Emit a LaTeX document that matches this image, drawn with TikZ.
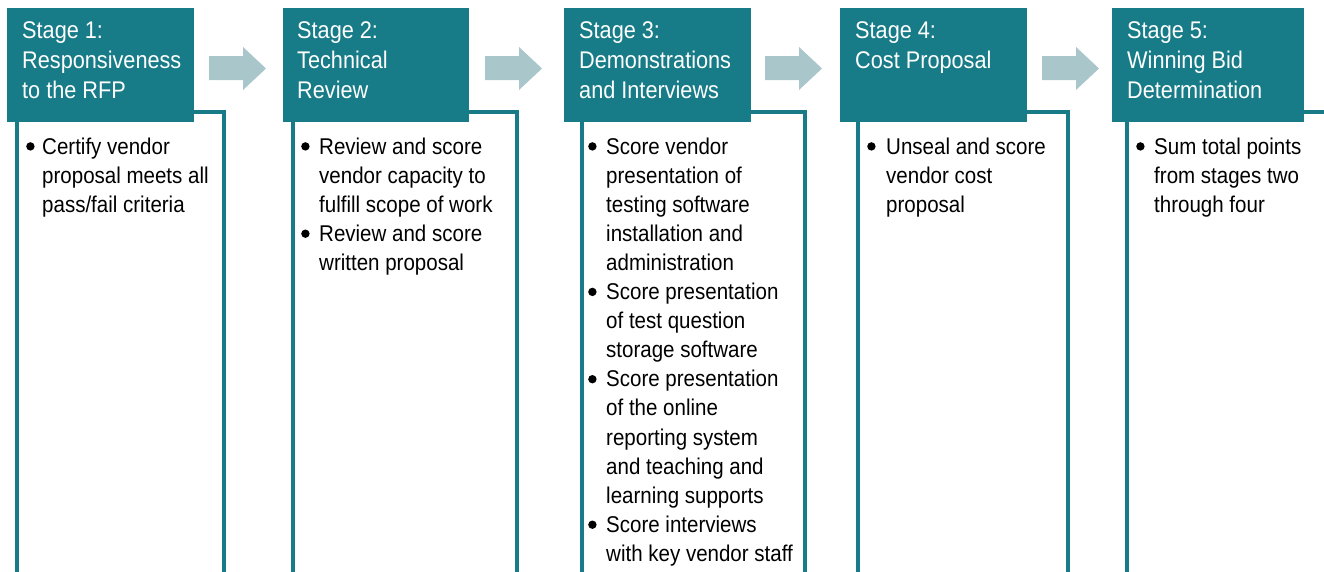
\documentclass[tikz,border=0pt]{standalone}
\usepackage{fontspec}
\setmainfont{Liberation Sans}[FakeStretch=0.9]
\usetikzlibrary{positioning}
\definecolor{stageteal}{RGB}{23,124,135}
\definecolor{stagearrow}{RGB}{169,198,203}
\tikzset{
  stagehead/.style={fill=stageteal, draw=none, minimum height=114pt, inner sep=0pt, anchor=north west},
  headtext/.style={text=white, anchor=base west, inner sep=0pt, font=\fontsize{24.1}{30}\selectfont},
  bodyline/.style={draw=stageteal, line width=3.5pt},
  bodytext/.style={anchor=base west, inner sep=0pt, font=\fontsize{22.8}{29.1}\selectfont},
}
\newcommand{\bul}{\tikz[baseline=0pt]\fill (4.2pt,7.6pt) circle (4.2pt); &}
\begin{document}
\begin{tikzpicture}[x=1pt, y=1pt]
    \useasboundingbox (0,0) rectangle (1324,-571);
    \clip (0,0) rectangle (1324,-571);

    % body frames
    \draw[bodyline] (17,-112) rectangle (224,-600);
    \draw[bodyline] (293,-112) rectangle (517,-600);
    \draw[bodyline] (582,-112) rectangle (805,-600);
    \draw[bodyline] (858,-112) rectangle (1068,-600);
    \draw[bodyline] (1127,-112) rectangle (1345,-600);

    % headers
    \node[stagehead, minimum width=187pt] (h1) at (7,-8) {};
    \node[stagehead, minimum width=186pt] (h2) at (283,-8) {};
    \node[stagehead, minimum width=187pt] (h3) at (564,-8) {};
    \node[stagehead, minimum width=187pt] (h4) at (840,-8) {};
    \node[stagehead, minimum width=192pt] (h5) at (1112,-8) {};

    \node[headtext] (t1) at (22,-38) {\begin{tabular}[t]{@{}l@{}}Stage 1:\\Responsiveness\\to the RFP\end{tabular}};
    \node[headtext] (t2) at (297,-38) {\begin{tabular}[t]{@{}l@{}}Stage 2:\\Technical\\Review\end{tabular}};
    \node[headtext] (t3) at (579,-38) {\begin{tabular}[t]{@{}l@{}}Stage 3:\\Demonstrations\\and Interviews\end{tabular}};
    \node[headtext] (t4) at (855,-38) {\begin{tabular}[t]{@{}l@{}}Stage 4:\\Cost Proposal\end{tabular}};
    \node[headtext] (t5) at (1127,-38) {\begin{tabular}[t]{@{}l@{}}Stage 5:\\Winning Bid\\Determination\end{tabular}};

    % arrows between stages
    \foreach \ax in {209,485,765,1042}
        \fill[stagearrow] (\ax,-56) -- (\ax+34,-56) -- (\ax+34,-47) -- (\ax+57,-68.5)
            -- (\ax+34,-90) -- (\ax+34,-80) -- (\ax,-80) -- cycle;

    % bullet lists
    \node[bodytext] (b1) at (26,-154) {\begin{tabular}[t]{@{}p{16pt}@{}l@{}}
        \bul Certify vendor\\ & proposal meets all\\ & pass/fail criteria
    \end{tabular}};
    \node[bodytext] (b2) at (301,-154) {\begin{tabular}[t]{@{}p{18pt}@{}l@{}}
        \bul Review and score\\ & vendor capacity to\\ & fulfill scope of work\\
        \bul Review and score\\ & written proposal
    \end{tabular}};
    \node[bodytext] (b3) at (588,-154) {\begin{tabular}[t]{@{}p{18pt}@{}l@{}}
        \bul Score vendor\\ & presentation of\\ & testing software\\ & installation and\\ & administration\\
        \bul Score presentation\\ & of test question\\ & storage software\\
        \bul Score presentation\\ & of the online\\ & reporting system\\ & and teaching and\\ & learning supports\\
        \bul Score interviews\\ & with key vendor staff
    \end{tabular}};
    \node[bodytext] (b4) at (867,-154) {\begin{tabular}[t]{@{}p{19pt}@{}l@{}}
        \bul Unseal and score\\ & vendor cost\\ & proposal
    \end{tabular}};
    \node[bodytext] (b5) at (1136,-154) {\begin{tabular}[t]{@{}p{18pt}@{}l@{}}
        \bul Sum total points\\ & from stages two\\ & through four
    \end{tabular}};
\end{tikzpicture}
\end{document}
